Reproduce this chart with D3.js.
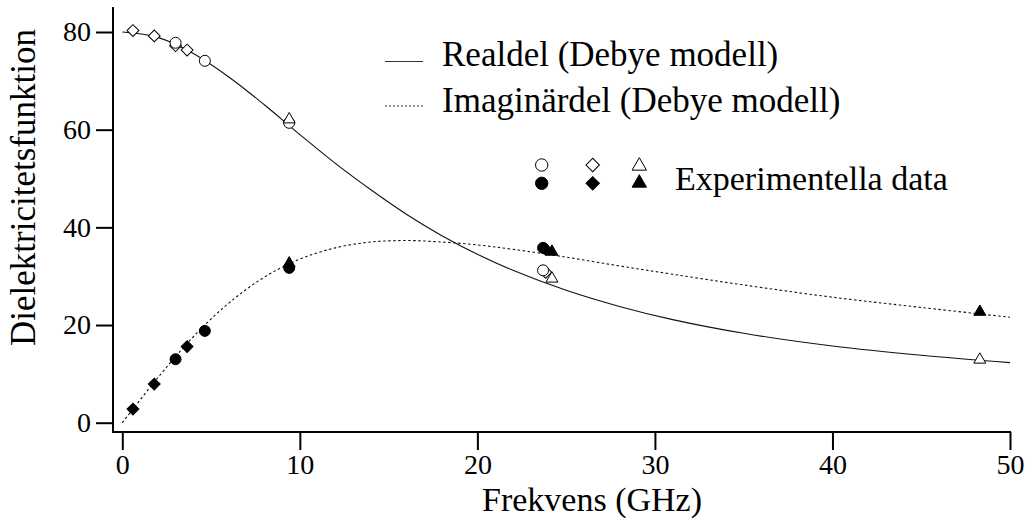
<!DOCTYPE html>
<html>
<head>
<meta charset="utf-8">
<script src="https://cdn.jsdelivr.net/npm/d3@7"></script>
<style>
  html, body { margin: 0; padding: 0; background: #fff; }
  svg { display: block; }
  text { font-family: "Liberation Serif", "DejaVu Serif", serif; fill: #000; }
</style>
</head>
<body>
<svg id="chart" width="1029" height="523"></svg>
<script>
// ---- data ----
const curveFreq = [0, 2, 4, 6, 8, 10, 12, 14, 16, 18, 20, 22, 25, 28, 31, 35, 40, 45, 50];
const curveReal = [80.0, 78.9, 75.6, 70.8, 65.1, 59.0, 53.1, 47.7, 42.7, 38.3, 34.5, 31.2, 27.1, 23.8, 21.1, 18.3, 15.7, 13.8, 12.3];
const curveImag = [0.0, 9.2, 17.6, 24.5, 29.8, 33.5, 35.8, 37.0, 37.3, 37.0, 36.4, 35.5, 33.9, 32.1, 30.4, 28.2, 25.7, 23.6, 21.6];

const circleFreq = [3.0, 4.65, 9.4, 23.7];
const circleReal = [77.8, 74.1, 61.4, 31.2];
const circleImag = [13.0, 18.8, 31.7, 35.8];

const diamondFreq = [0.6, 1.8, 3.0, 3.65, 23.85];
const diamondReal = [80.3, 79.2, 77.2, 76.3, 30.8];
const diamondImag = [2.8, 7.9, null, 15.6, 35.5];

const triangleFreq = [9.4, 24.2, 48.3];
const triangleReal = [62.1, 29.5, 12.9];
const triangleImag = [32.6, 35.0, 22.7];

const xTicks = [0, 10, 20, 30, 40, 50];
const yTicks = [0, 20, 40, 60, 80];

const xLabel = "Frekvens (GHz)";
const yLabel = "Dielektricitetsfunktion";
const legendReal = "Realdel (Debye modell)";
const legendImag = "Imaginärdel (Debye modell)";
const legendData = "Experimentella data";

// ---- layout ----
const svg = d3.select("#chart");
const x = d3.scaleLinear().domain([0, 50]).range([122.3, 1010]);
const y = d3.scaleLinear().domain([0, 80]).range([422.7, 32]);
const axisX0 = 113, axisY0 = 432;

// curves
const line = d3.line().x(d => x(d[0])).y(d => y(d[1])).curve(d3.curveCatmullRom.alpha(0.5));
svg.append("path")
  .attr("d", line(curveFreq.map((f, i) => [f, curveReal[i]])))
  .attr("fill", "none").attr("stroke", "#111").attr("stroke-width", 1.1);
svg.append("path")
  .attr("d", line(curveFreq.map((f, i) => [f, curveImag[i]])))
  .attr("fill", "none").attr("stroke", "#111").attr("stroke-width", 1.1)
  .attr("stroke-dasharray", "2.5,2.5");

// axes
const yAxis = d3.axisLeft(y).tickValues(yTicks).tickSizeInner(17).tickSizeOuter(0).tickPadding(5);
const gy = svg.append("g").attr("transform", `translate(${axisX0},0)`).call(yAxis);
gy.select(".domain").remove();
gy.selectAll(".tick line").attr("stroke", "#000").attr("stroke-width", 2);
gy.selectAll(".tick text").attr("font-size", 28).attr("font-family", null).attr("fill", "#000");

const xAxis = d3.axisBottom(x).tickValues(xTicks).tickSizeInner(18).tickSizeOuter(0).tickPadding(4);
const gx = svg.append("g").attr("transform", `translate(0,${axisY0})`).call(xAxis);
gx.select(".domain").remove();
gx.selectAll(".tick line").attr("stroke", "#000").attr("stroke-width", 2);
gx.selectAll(".tick text").attr("font-size", 28).attr("font-family", null).attr("fill", "#000");

svg.append("line").attr("x1", axisX0).attr("x2", axisX0).attr("y1", 7).attr("y2", axisY0 + 1)
  .attr("stroke", "#000").attr("stroke-width", 2);
svg.append("line").attr("x1", axisX0 - 1).attr("x2", x(50) + 1).attr("y1", axisY0).attr("y2", axisY0)
  .attr("stroke", "#000").attr("stroke-width", 2);

// axis titles
svg.append("text").attr("x", 592).attr("y", 511).attr("text-anchor", "middle")
  .attr("font-size", 34).text(xLabel);
svg.append("text").attr("transform", "translate(35,187.5) rotate(-90)").attr("text-anchor", "middle")
  .attr("font-size", 35).text(yLabel);

// markers
const circleSym = d3.symbol().type(d3.symbolCircle).size(95);
const squareSym = d3.symbol().type(d3.symbolSquare).size(70);
const triSym = d3.symbol().type(d3.symbolTriangle).size(62);

function drawMarkers(freqs, vals, sym, filled, rot) {
  const pts = freqs.map((f, i) => [f, vals[i]]).filter(d => d[1] != null);
  svg.append("g").selectAll("path").data(pts).join("path")
    .attr("d", sym)
    .attr("transform", d => `translate(${x(d[0])},${y(d[1])})` + (rot ? ` rotate(${rot})` : ""))
    .attr("fill", filled ? "#000" : "#fff")
    .attr("stroke", "#000").attr("stroke-width", 1);
}
drawMarkers(diamondFreq, diamondReal, squareSym, false, 45);
drawMarkers(circleFreq, circleReal, circleSym, false, 0);
drawMarkers(triangleFreq, triangleReal, triSym, false, 0);
drawMarkers(diamondFreq, diamondImag, squareSym, true, 45);
drawMarkers(circleFreq, circleImag, circleSym, true, 0);
drawMarkers(triangleFreq, triangleImag, triSym, true, 0);

// legend
const lg = svg.append("g");
lg.append("line").attr("x1", 385).attr("x2", 423).attr("y1", 61.5).attr("y2", 61.5)
  .attr("stroke", "#333").attr("stroke-width", 1.1);
lg.append("text").attr("x", 442).attr("y", 66).attr("font-size", 35).text(legendReal);
lg.append("line").attr("x1", 385).attr("x2", 423).attr("y1", 106).attr("y2", 106)
  .attr("stroke", "#333").attr("stroke-width", 1.1).attr("stroke-dasharray", "2,2");
lg.append("text").attr("x", 442).attr("y", 111.5).attr("font-size", 35).text(legendImag);

const lc = d3.symbol().type(d3.symbolCircle).size(120);
const ls = d3.symbol().type(d3.symbolSquare).size(90);
const lt = d3.symbol().type(d3.symbolTriangle).size(90);
const legMarks = [
  [lc, 541.7, 165, false, 0], [ls, 592.7, 165, false, 45], [lt, 639.3, 166, false, 0],
  [lc, 541.7, 183.3, true, 0], [ls, 592.7, 183.3, true, 45], [lt, 639.3, 183, true, 0]
];
legMarks.forEach(m => {
  lg.append("path").attr("d", m[0])
    .attr("transform", `translate(${m[1]},${m[2]}) rotate(${m[4]})`)
    .attr("fill", m[3] ? "#000" : "#fff").attr("stroke", "#000").attr("stroke-width", 1);
});
lg.append("text").attr("x", 675).attr("y", 190).attr("font-size", 34).text(legendData);
</script>
</body>
</html>
